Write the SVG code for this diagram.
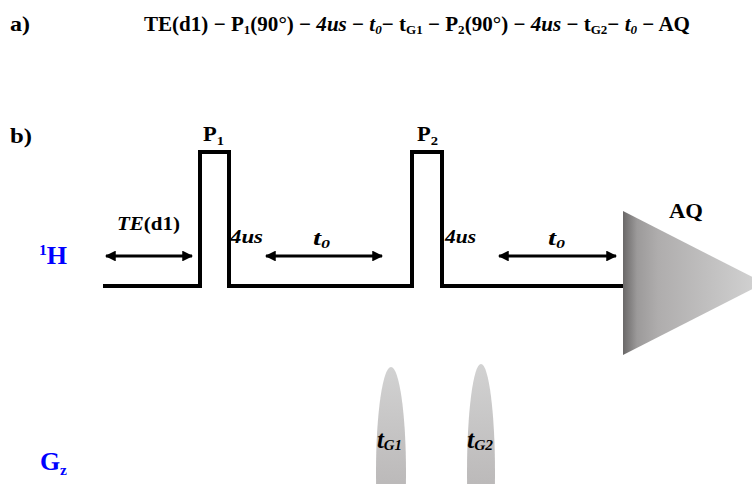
<svg xmlns="http://www.w3.org/2000/svg" width="752" height="484" viewBox="0 0 752 484">
<defs>
<style>
text{font-family:"Liberation Serif","Times New Roman",serif;font-weight:bold;fill:#000}
.it{font-style:italic}
.blue{fill:#0000ff}
.line{fill:none;stroke:#000;stroke-width:4;stroke-linejoin:miter}
.arr{fill:none;stroke:#000;stroke-width:3;marker-start:url(#ah);marker-end:url(#ah)}
</style>
<marker id="ah" viewBox="0 0 10 10" refX="9" refY="5" markerWidth="3.6" markerHeight="3.6" orient="auto-start-reverse" markerUnits="strokeWidth">
<path d="M0,0 L10,5 L0,10 z" fill="#000"/>
</marker>
<linearGradient id="gAQ" x1="0" y1="0" x2="1" y2="0">
<stop offset="0" stop-color="#6a6868"/>
<stop offset="0.1" stop-color="#9c9a9a"/>
<stop offset="0.25" stop-color="#afadad"/>
<stop offset="1" stop-color="#d4d4d4"/>
</linearGradient>
<linearGradient id="gG" x1="0" y1="0" x2="0" y2="1">
<stop offset="0" stop-color="#d2d2d2"/>
<stop offset="0.5" stop-color="#bebcbc"/>
<stop offset="1" stop-color="#aaa8a8"/>
</linearGradient>
</defs>
<rect width="752" height="484" fill="#fff"/>

<g id="labels">
<text x="10" y="31" font-size="22" textLength="20" lengthAdjust="spacingAndGlyphs">a)</text>
<text x="144" y="31" font-size="21" textLength="546" lengthAdjust="spacingAndGlyphs">TE(d1) − P<tspan font-size="13" dy="3">1</tspan><tspan dy="-3">(90°) − </tspan><tspan class="it">4us</tspan> − <tspan class="it">t</tspan><tspan class="it" font-size="13" dy="3">0</tspan><tspan dy="-3">− t</tspan><tspan font-size="13" dy="3">G1</tspan><tspan dy="-3"> − P</tspan><tspan font-size="13" dy="3">2</tspan><tspan dy="-3">(90°) − </tspan><tspan class="it">4us</tspan> − t<tspan font-size="13" dy="3">G2</tspan><tspan dy="-3">− </tspan><tspan class="it">t</tspan><tspan class="it" font-size="13" dy="3">0</tspan><tspan dy="-3"> − AQ</tspan></text>
<text x="10" y="143" font-size="22" textLength="22" lengthAdjust="spacingAndGlyphs">b)</text>
<text x="39" y="264" font-size="25" class="blue" textLength="28" lengthAdjust="spacingAndGlyphs"><tspan font-size="15" dy="-9">1</tspan><tspan dy="9">H</tspan></text>
<text x="40" y="470" font-size="25" class="blue" textLength="27" lengthAdjust="spacingAndGlyphs">G<tspan font-size="15" dy="5">z</tspan></text>
</g>

<g id="h-channel">
<path class="line" d="M103,286 H200 V152 H229 V286 H412 V152 H442 V286 H624"/>
</g>

<g id="P1">
<text x="203" y="141" font-size="20" textLength="21" lengthAdjust="spacingAndGlyphs">P<tspan font-size="13" dy="4">1</tspan></text>
</g>
<g id="P2">
<text x="417" y="141" font-size="20" textLength="21" lengthAdjust="spacingAndGlyphs">P<tspan font-size="13" dy="4">2</tspan></text>
</g>

<g id="AQ">
<polygon points="623,211 764,283 623,355" fill="url(#gAQ)"/>
<text x="669" y="218" font-size="20" textLength="34" lengthAdjust="spacingAndGlyphs">AQ</text>
</g>

<g id="G1">
<ellipse cx="391" cy="472" rx="15" ry="105" fill="url(#gG)"/>
<text x="377" y="448" font-size="25" class="it" textLength="25" lengthAdjust="spacingAndGlyphs">t<tspan font-size="15" dy="2">G1</tspan></text>
</g>
<g id="G2">
<ellipse cx="481" cy="472" rx="14" ry="108" fill="url(#gG)"/>
<text x="467" y="448" font-size="25" class="it" textLength="26" lengthAdjust="spacingAndGlyphs">t<tspan font-size="15" dy="2">G2</tspan></text>
</g>

<g id="connectors">
<line class="arr" x1="106" y1="256" x2="192" y2="256"/>
<line class="arr" x1="266" y1="256" x2="382" y2="256"/>
<line class="arr" x1="499" y1="256" x2="616" y2="256"/>
</g>

<g id="interval-labels">
<text x="117" y="230" font-size="19" textLength="63" lengthAdjust="spacingAndGlyphs"><tspan class="it">TE</tspan>(d1)</text>
<text x="230" y="243" font-size="19" class="it" textLength="33" lengthAdjust="spacingAndGlyphs">4us</text>
<text x="445" y="243" font-size="19" class="it" textLength="31" lengthAdjust="spacingAndGlyphs">4us</text>
<text x="313" y="245" font-size="21" class="it" textLength="17" lengthAdjust="spacingAndGlyphs">t<tspan font-size="13" dy="3">0</tspan></text>
<text x="548" y="245" font-size="21" class="it" textLength="17" lengthAdjust="spacingAndGlyphs">t<tspan font-size="13" dy="3">0</tspan></text>
</g>
</svg>
